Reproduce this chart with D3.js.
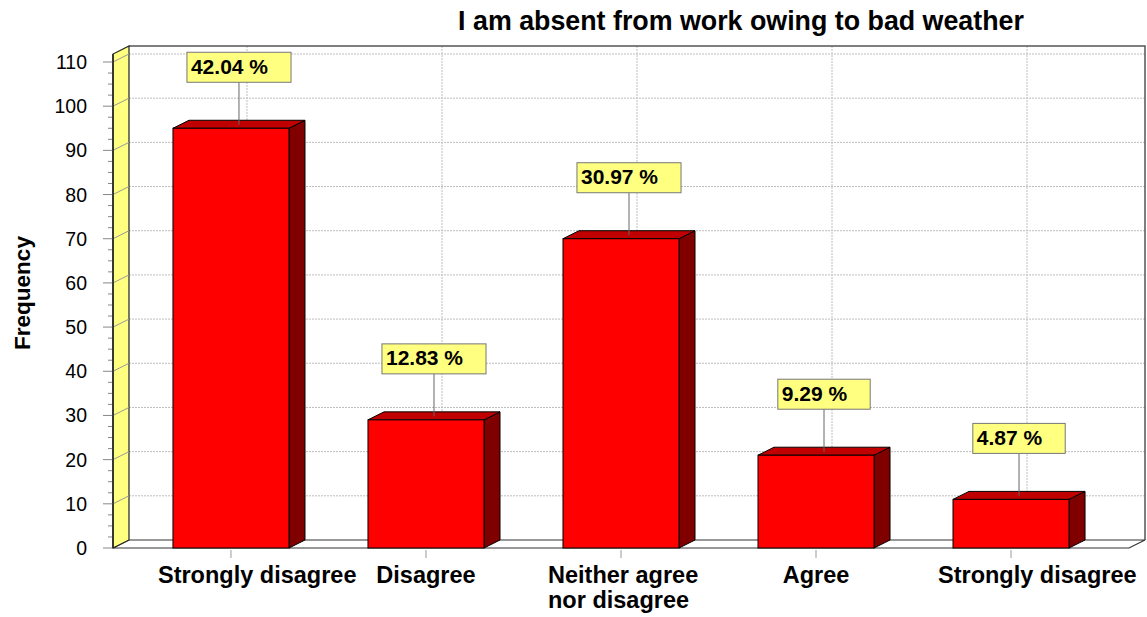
<!DOCTYPE html>
<html>
<head>
<meta charset="utf-8">
<script src="https://cdn.jsdelivr.net/npm/d3@7"></script>
<style>
  html, body { margin: 0; padding: 0; background: #fff; }
  svg { display: block; font-family: "Liberation Sans", Arial, sans-serif; }
</style>
</head>
<body>
<svg id="chart" width="1147" height="617"></svg>
<script>
// Survey responses: "I am absent from work owing to bad weather"
const categories = ["Strongly disagree", "Disagree", "Neither agree\nnor disagree", "Agree", "Strongly disagree"];
const frequencies = [95, 29, 70, 21, 11];
const percentLabels = ["42.04 %", "12.83 %", "30.97 %", "9.29 %", "4.87 %"];
const yTickValues = [0, 10, 20, 30, 40, 50, 60, 70, 80, 90, 100, 110];
const yMinorStep = 2.5;
const yAxisMax = 111.8;
const titleText = "I am absent from work owing to bad weather";
const yAxisTitle = "Frequency";

const svg = d3.select("#chart");

// Plot frame (front plane) and 3-D depth offset
const left = 113, right = 1129, bottom = 548, top110 = 62;
const depthX = 16, depthY = -8;

const y = d3.scaleLinear().domain([0, 110]).range([bottom, top110]);
const x = d3.scalePoint().domain(d3.range(categories.length)).range([left, right]).padding(0.605);
const barW = x.step() * 0.595;

const yTopFront = y(yAxisMax);
const backLeft = left + depthX, backRight = right + depthX;
const backTop = yTopFront + depthY, backBottom = bottom + depthY;

// Back wall
svg.append("rect")
  .attr("x", backLeft).attr("y", backTop)
  .attr("width", backRight - backLeft).attr("height", backBottom - backTop)
  .attr("fill", "#fff");

// Horizontal gridlines on the back wall
svg.append("g").selectAll("line")
  .data(yTickValues.filter(v => v > 0))
  .join("line")
  .attr("x1", backLeft).attr("x2", backRight)
  .attr("y1", d => y(d) + depthY).attr("y2", d => y(d) + depthY)
  .attr("stroke", "#bdbdbd").attr("stroke-width", 1).attr("stroke-dasharray", "2,1");

// Vertical gridlines on the back wall at each category
svg.append("g").selectAll("line")
  .data(d3.range(categories.length))
  .join("line")
  .attr("x1", d => x(d) + depthX).attr("x2", d => x(d) + depthX)
  .attr("y1", backTop).attr("y2", backBottom)
  .attr("stroke", "#bdbdbd").attr("stroke-width", 1).attr("stroke-dasharray", "2,1");

// Back wall top and right edges
svg.append("path")
  .attr("d", `M${backLeft},${backTop}H${backRight}V${backBottom}`)
  .attr("fill", "none").attr("stroke", "#555").attr("stroke-width", 1.5);

// Floor
svg.append("path")
  .attr("d", `M${left},${bottom}L${right},${bottom}L${backRight},${backBottom}L${backLeft},${backBottom}Z`)
  .attr("fill", "#fff").attr("stroke", "#333").attr("stroke-width", 1.2);

// Left side wall
svg.append("path")
  .attr("d", `M${left},${bottom}L${left},${yTopFront}L${backLeft},${backTop}L${backLeft},${backBottom}Z`)
  .attr("fill", "#ffff80").attr("stroke", "#222").attr("stroke-width", 1.2);

// Gridlines across the side wall
svg.append("g").selectAll("line")
  .data(yTickValues.filter(v => v > 0))
  .join("line")
  .attr("x1", left).attr("x2", backLeft)
  .attr("y1", d => y(d)).attr("y2", d => y(d) + depthY)
  .attr("stroke", "#999").attr("stroke-width", 1);

// Y axis: major and minor tick marks
const minorTicks = d3.range(0, 110 + 0.001, yMinorStep).filter(v => v % 10 !== 0);
svg.append("g").selectAll("line")
  .data(minorTicks)
  .join("line")
  .attr("x1", left - 5).attr("x2", left)
  .attr("y1", d => y(d)).attr("y2", d => y(d))
  .attr("stroke", "#888").attr("stroke-width", 1);

svg.append("g").selectAll("line")
  .data(yTickValues)
  .join("line")
  .attr("x1", left - 10).attr("x2", left)
  .attr("y1", d => y(d)).attr("y2", d => y(d))
  .attr("stroke", "#888").attr("stroke-width", 1);

svg.append("g").selectAll("text")
  .data(yTickValues)
  .join("text")
  .attr("x", 87).attr("y", d => y(d) + 7)
  .attr("text-anchor", "end")
  .attr("font-size", 19.5)
  .attr("fill", "#000")
  .text(d => d);

// Front axis edge
svg.append("line")
  .attr("x1", left).attr("x2", left).attr("y1", yTopFront).attr("y2", bottom)
  .attr("stroke", "#222").attr("stroke-width", 1.5);

// X tick marks
svg.append("g").selectAll("line")
  .data(d3.range(categories.length))
  .join("line")
  .attr("x1", d => x(d)).attr("x2", d => x(d))
  .attr("y1", bottom + 2).attr("y2", bottom + 10)
  .attr("stroke", "#999").attr("stroke-width", 1);

// 3-D bars
const bars = svg.append("g").selectAll("g")
  .data(frequencies.map((v, i) => ({ v, i })))
  .join("g");

bars.append("path") // side face
  .attr("d", d => {
    const x1 = x(d.i) + barW / 2, yt = y(d.v);
    return `M${x1},${bottom}L${x1},${yt}L${x1 + depthX},${yt + depthY}L${x1 + depthX},${bottom + depthY}Z`;
  })
  .attr("fill", "#800000").attr("stroke", "#000").attr("stroke-width", 1);

bars.append("path") // top face
  .attr("d", d => {
    const x0 = x(d.i) - barW / 2, x1 = x(d.i) + barW / 2, yt = y(d.v);
    return `M${x0},${yt}L${x1},${yt}L${x1 + depthX},${yt + depthY}L${x0 + depthX},${yt + depthY}Z`;
  })
  .attr("fill", "#c00000").attr("stroke", "#000").attr("stroke-width", 1);

bars.append("rect") // front face
  .attr("x", d => x(d.i) - barW / 2)
  .attr("y", d => y(d.v))
  .attr("width", barW)
  .attr("height", d => bottom - y(d.v))
  .attr("fill", "#ff0000").attr("stroke", "#000").attr("stroke-width", 1);

// Percentage callouts
const boxH = 30, boxGap = 46;
bars.each(function (d) {
  const g = d3.select(this);
  const cx = x(d.i) + depthX / 2;
  const yt = y(d.v);
  const boxBottom = yt - boxGap;
  g.append("line")
    .attr("x1", cx).attr("x2", cx)
    .attr("y1", boxBottom).attr("y2", yt + depthY / 2 + 0.5)
    .attr("stroke", "#666").attr("stroke-width", 1);
  const box = g.append("rect")
    .attr("y", boxBottom - boxH).attr("height", boxH)
    .attr("fill", "#ffff80").attr("stroke", "#777").attr("stroke-width", 1);
  const t = g.append("text")
    .attr("y", boxBottom - boxH + 21.5)
    .attr("font-size", 21).attr("font-weight", "bold").attr("fill", "#000")
    .text(percentLabels[d.i]);
  const w = t.node().getComputedTextLength() + 27;
  box.attr("x", cx - w / 2).attr("width", w);
  t.attr("x", cx - w / 2 + 4);
});

// Category labels (block centred on the tick, lines left-aligned)
const labelMaxBlock = 146;
svg.append("g").selectAll("text")
  .data(categories.map((c, i) => ({ lines: c.split("\n"), i })))
  .join("text")
  .attr("font-size", 23.5).attr("font-weight", "bold").attr("fill", "#000")
  .each(function (d) {
    const t = d3.select(this);
    d.lines.forEach((ln, k) => {
      t.append("tspan").attr("y", 583 + k * 25).text(ln);
    });
    let maxW = 0;
    t.selectAll("tspan").each(function () { maxW = Math.max(maxW, this.getComputedTextLength()); });
    const start = x(d.i) - Math.min(maxW, labelMaxBlock) / 2;
    t.selectAll("tspan").attr("x", start);
  });

// Title
svg.append("text")
  .attr("x", 741).attr("y", 30)
  .attr("text-anchor", "middle")
  .attr("font-size", 26.8).attr("font-weight", "bold").attr("fill", "#000")
  .text(titleText);

// Y axis title
svg.append("text")
  .attr("transform", "translate(30,293) rotate(-90)")
  .attr("text-anchor", "middle")
  .attr("font-size", 22.5).attr("font-weight", "bold").attr("fill", "#000")
  .text(yAxisTitle);
</script>
</body>
</html>
